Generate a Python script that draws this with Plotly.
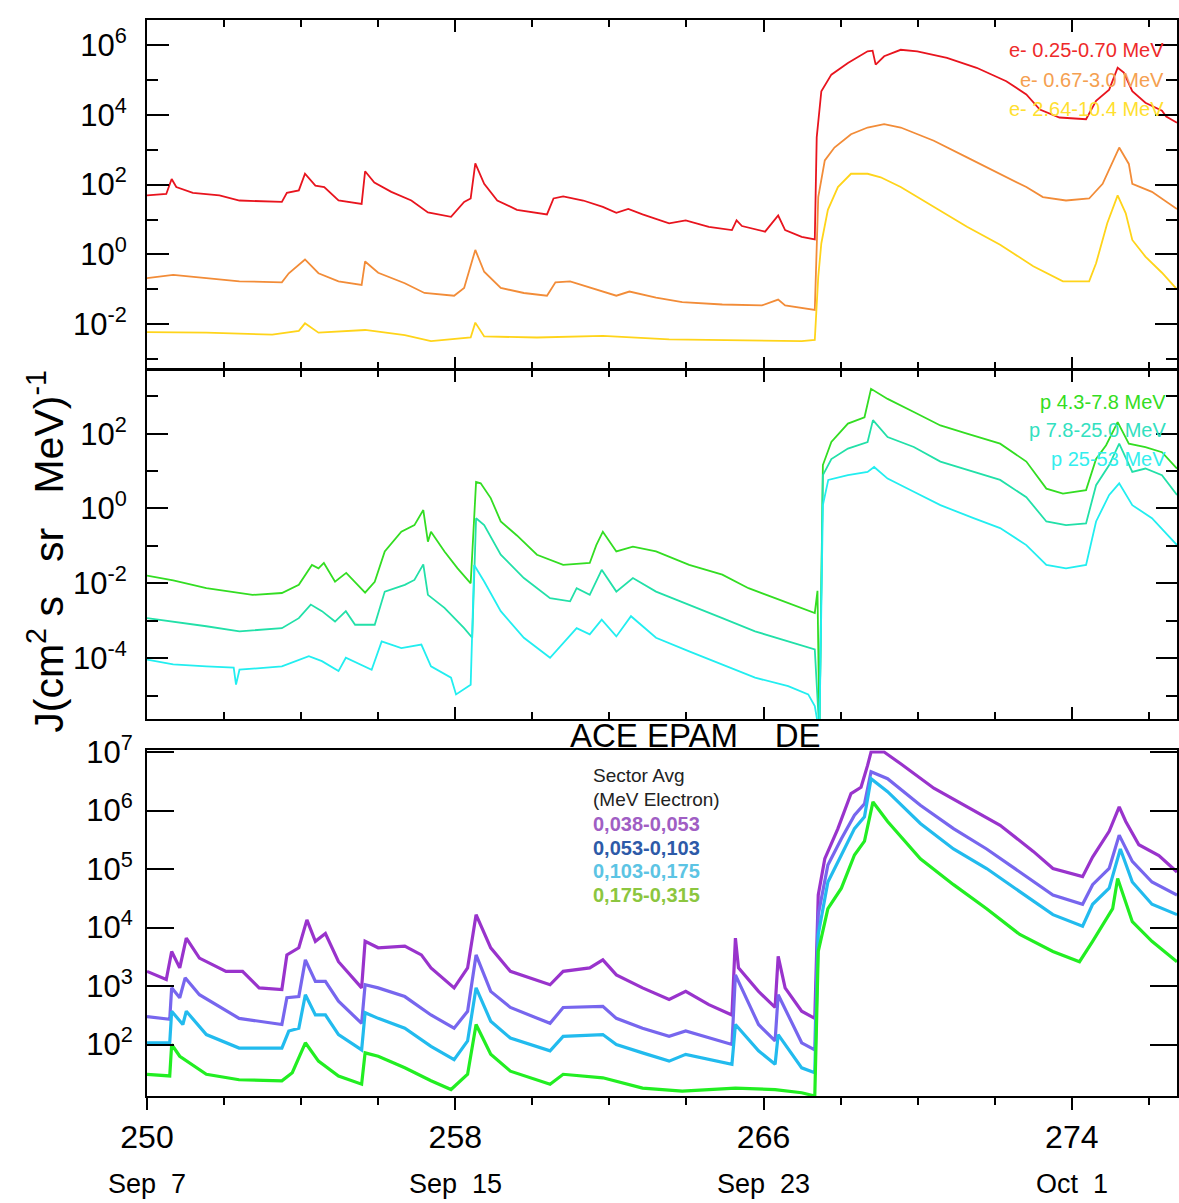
import plotly.graph_objects as go

FONT = "Liberation Sans, Arial, sans-serif"

# ---------------- data (day of year 2005, flux) ----------------
# Panel 1: electrons
e1_day = [250.0, 250.5, 250.64, 250.76, 251.19, 251.88, 252.4, 253.5, 253.63, 253.94, 254.1, 254.37, 254.6,
          254.97, 255.57, 255.66, 255.9, 256.34, 256.86, 257.29, 257.89, 258.23, 258.4, 258.52, 258.75, 259.09,
          259.6, 260.38, 260.55, 260.8, 261.32, 261.83, 262.18, 262.49, 262.86, 263.55, 263.98, 264.58, 265.18,
          265.3, 265.44, 266.04, 266.38, 266.56, 266.99, 267.33, 267.38, 267.5, 267.76, 268.19, 268.7, 268.83,
          268.91, 269.13, 269.56, 269.99, 270.76, 271.53, 272.3, 272.82, 273.17, 273.68, 274.37, 274.63, 274.97,
          275.19, 275.35, 275.57, 275.91, 276.34, 276.45, 276.73]
e1_val = [49, 54, 145, 85, 58, 49, 35, 32, 58, 68, 204, 93, 85,
          35, 28, 240, 115, 62, 35, 16, 12, 32, 40, 407, 105, 35,
          19, 14, 40, 46, 35, 23, 15.5, 20, 14, 7.8, 9.5, 6.2, 5.0,
          9.5, 6.5, 4.5, 13, 5.0, 3.2, 2.7, 2240, 4.7e4, 1.4e5, 3.0e5, 6.5e5, 6.8e5,
          2.7e5, 4.7e5, 7.2e5, 6.5e5, 4.2e5, 2.2e5, 9.1e4, 3.8e4, 1.4e4, 8300, 7400, 2.5e4, 5.2e4,
          2.2e5, 1.6e5, 4.7e4, 2.2e4, 1.3e4, 8900, 5900]

e2_day = [250.0, 250.68, 251.54, 252.4, 253.5, 253.68, 254.1, 254.45, 254.97, 255.57, 255.66, 256.0, 256.69,
          257.2, 257.97, 258.23, 258.52, 258.75, 259.18, 259.78, 260.38, 260.6, 260.98, 261.83, 262.18, 262.52,
          263.21, 263.89, 264.93, 265.96, 266.38, 266.56, 266.99, 267.33, 267.42, 267.59, 267.84, 268.27, 268.7,
          269.13, 269.56, 270.42, 271.28, 272.14, 272.82, 273.25, 273.85, 274.45, 274.8, 275.23, 275.48, 275.57,
          276.08, 276.73]
e2_val = [0.21, 0.26, 0.21, 0.17, 0.16, 0.29, 0.72, 0.29, 0.17, 0.135, 0.63, 0.30, 0.15,
          0.079, 0.066, 0.11, 1.35, 0.32, 0.11, 0.079, 0.066, 0.16, 0.17, 0.087, 0.066, 0.087,
          0.058, 0.043, 0.037, 0.035, 0.051, 0.035, 0.030, 0.026, 44, 490, 1150, 2750, 4300,
          5400, 4300, 1800, 600, 204, 85, 44, 35, 40, 105, 1150, 390, 105,
          62, 20]

e3_day = [250.0, 251.54, 253.25, 253.94, 254.1, 254.45, 255.66, 256.69, 257.37, 258.4, 258.52, 258.75, 260.12,
          261.83, 263.55, 265.27, 266.99, 267.33, 267.42, 267.5, 267.67, 267.93, 268.27, 268.7, 269.04, 269.56,
          270.42, 271.28, 272.14, 273.0, 273.77, 274.45, 274.63, 274.92, 275.19, 275.4, 275.57, 275.91, 276.34,
          276.73]
e3_val = [0.0060, 0.0058, 0.0051, 0.0065, 0.0107, 0.0058, 0.0069, 0.0049, 0.0033, 0.0042, 0.0112, 0.0045, 0.0042,
          0.0047, 0.0037, 0.0035, 0.0033, 0.0036, 0.23, 2.1, 19, 85, 204, 204, 162, 85,
          23, 6.2, 1.9, 0.46, 0.17, 0.17, 0.56, 7.8, 49, 15, 2.6, 0.87, 0.30,
          0.10]

# Panel 2: protons
p1_day = [250.0, 250.68, 251.54, 252.74, 253.5, 253.94, 254.28, 254.45, 254.59, 254.88, 255.17, 255.66, 255.91,
          256.17, 256.6, 256.94, 257.17, 257.29, 257.37, 257.72, 258.06, 258.4, 258.54, 258.66, 258.92, 259.18,
          259.6, 260.12, 260.8, 261.49, 261.66, 261.83, 262.18, 262.61, 263.21, 264.07, 264.93, 265.61, 266.3,
          266.99, 267.33, 267.4, 267.45, 267.54, 267.76, 268.19, 268.62, 268.79, 269.22, 269.9, 270.59, 271.28,
          272.14, 272.82, 273.34, 273.77, 274.37, 274.63, 274.89, 275.19, 275.48, 275.91, 276.34, 276.73]
p1_val = [0.016, 0.012, 0.0074, 0.0049, 0.0055, 0.0091, 0.031, 0.025, 0.035, 0.011, 0.019, 0.0056, 0.011,
          0.071, 0.24, 0.36, 0.91, 0.13, 0.24, 0.071, 0.025, 0.010, 5.1, 4.7, 1.9, 0.45,
          0.19, 0.058, 0.031, 0.035, 0.105, 0.24, 0.071, 0.095, 0.071, 0.031, 0.017, 0.0074, 0.0040,
          0.0022, 0.0016, 0.0063, 1e-6, 14.5, 60, 186, 275, 1580, 850, 380, 166, 100,
          54, 18, 3.4, 2.5, 3.1, 21, 49, 204, 54, 44, 32, 11.7]

p2_day = [250.0, 250.68, 251.54, 252.4, 253.5, 253.94, 254.25, 254.54, 254.88, 255.16, 255.4, 255.91, 256.17,
          256.69, 256.94, 257.17, 257.29, 257.72, 258.23, 258.44, 258.54, 258.75, 259.18, 259.78, 260.46, 260.98,
          261.15, 261.49, 261.8, 262.18, 262.61, 263.21, 264.07, 264.93, 265.78, 266.64, 267.33, 267.45, 267.54,
          267.76, 268.19, 268.7, 268.84, 269.22, 269.9, 270.59, 271.45, 272.14, 272.82, 273.34, 273.85, 274.37,
          274.63, 274.97, 275.23, 275.57, 275.91, 276.34, 276.73]
p2_val = [0.00117, 0.00095, 0.00071, 0.00052, 0.00063, 0.00117, 0.0027, 0.0018, 0.00095, 0.0018, 0.00078, 0.00078, 0.0060,
          0.0091, 0.0123, 0.032, 0.0049, 0.0022, 0.00063, 0.00035, 0.55, 0.36, 0.058, 0.0138, 0.0040, 0.0033,
          0.0074, 0.0049, 0.023, 0.0060, 0.0138, 0.0060, 0.0027, 0.00117, 0.00052, 0.00028, 0.00017, 1e-6, 7.8,
          21, 40, 60, 230, 81, 44, 18, 9.5, 5.8, 2.0, 0.45, 0.36, 0.40,
          4.2, 14.5, 54, 9.5, 11.7, 7.8, 2.3]

p3_day = [250.0, 250.68, 251.54, 252.25, 252.31, 252.4, 253.5, 254.2, 254.54, 254.97, 255.16, 255.83, 256.09,
          256.6, 257.12, 257.37, 257.89, 258.02, 258.4, 258.49, 258.75, 259.18, 259.78, 260.46, 261.15, 261.49,
          261.8, 262.18, 262.56, 263.21, 264.07, 264.93, 265.78, 266.64, 267.16, 267.33, 267.45, 267.54, 267.68,
          268.19, 268.7, 268.87, 269.22, 269.9, 270.59, 271.45, 272.14, 272.82, 273.34, 273.85, 274.37, 274.63,
          274.97, 275.23, 275.57, 276.08, 276.73]
p3_val = [9.1e-5, 6.8e-5, 6.0e-5, 5.6e-5, 1.95e-5, 4.9e-5, 6.0e-5, 1.12e-4, 8.3e-5, 4.5e-5, 1.02e-4, 4.9e-5, 2.8e-4,
          1.86e-4, 2.3e-4, 6.0e-5, 3.0e-5, 1.07e-5, 1.95e-5, 0.031, 0.0112, 0.0018, 3.5e-4, 1.02e-4, 6.3e-4, 4.3e-4,
          1.07e-3, 3.8e-4, 1.32e-3, 3.5e-4, 1.51e-4, 6.8e-5, 3.0e-5, 1.78e-5, 1.07e-5, 5.2e-6, 1e-6, 1.23, 5.8,
          7.8, 9.5, 12.9, 6.3, 2.8, 1.23, 0.55, 0.30, 0.105, 0.031, 0.025, 0.031, 0.45,
          2.3, 4.7, 1.23, 0.55, 0.105]

# Panel 3: ACE EPAM DE electrons
d1_day = [250.0, 250.5, 250.64, 250.85, 251.02, 251.36, 252.05, 252.48, 252.91, 253.5, 253.63, 253.94, 254.15,
          254.37, 254.63, 254.97, 255.57, 255.66, 256.0, 256.69, 257.12, 257.37, 257.97, 258.32, 258.54, 258.92,
          259.43, 260.46, 260.8, 261.49, 261.83, 262.18, 262.86, 263.55, 263.98, 264.58, 265.18, 265.27, 265.35,
          265.87, 266.3, 266.38, 266.56, 266.99, 267.33, 267.42, 267.59, 267.93, 268.27, 268.53, 268.7, 268.79,
          269.13, 269.56, 270.42, 271.28, 272.14, 273.0, 273.51, 274.28, 274.54, 274.97, 275.23, 275.4, 275.74,
          276.26, 276.73]
d1_val = [1780, 1290, 3900, 2040, 6600, 3000, 1780, 1780, 930, 870, 3400, 4500, 13500,
          5800, 7900, 2600, 930, 5800, 4500, 4800, 3400, 2040, 930, 2040, 16600, 4500,
          1780, 1050, 1780, 2040, 2800, 1550, 930, 590, 810, 480, 320, 6600, 2040,
          810, 430, 3200, 930, 370, 280, 3.6e4, 1.5e5, 4.9e5, 1.95e6, 2.5e6, 5.9e6, 1.0e7,
          1.0e7, 6.3e6, 2.4e6, 1.15e6, 5.6e5, 2.0e5, 1.02e5, 7.4e4, 1.6e5, 4.4e5, 1.15e6, 6.5e5, 2.6e5,
          1.7e5, 8.9e4]

d2_day = [250.0, 250.59, 250.64, 250.85, 250.99, 251.36, 252.39, 253.5, 253.63, 253.94, 254.11, 254.37, 254.63,
          254.97, 255.57, 255.66, 256.0, 256.69, 257.37, 257.97, 258.32, 258.54, 258.92, 259.43, 260.46, 260.8,
          261.83, 262.18, 262.86, 263.55, 263.98, 265.18, 265.27, 265.87, 266.3, 266.38, 266.99, 267.33, 267.42,
          267.67, 268.02, 268.36, 268.62, 268.79, 269.22, 270.07, 270.93, 271.79, 272.65, 273.51, 274.28, 274.54,
          274.97, 275.23, 275.57, 276.08, 276.73]
d2_val = [300, 270, 930, 630, 1380, 710, 280, 220, 630, 660, 2800, 1200, 1200,
          550, 230, 1050, 930, 660, 320, 190, 370, 3400, 810, 430, 230, 430,
          450, 280, 190, 138, 170, 100, 1550, 220, 115, 710, 107, 81, 1.66e4,
          1.17e5, 3.3e5, 8.3e5, 1.3e6, 4.6e6, 3.5e6, 1.23e6, 4.9e5, 2.2e5, 8.9e4, 3.6e4, 2.5e4, 5.4e4,
          1.02e5, 3.8e5, 1.35e5, 6.0e4, 3.6e4]

d3_day = [250.0, 250.59, 250.64, 250.93, 251.02, 251.54, 252.39, 253.5, 253.68, 253.94, 254.11, 254.37, 254.63,
          254.97, 255.57, 255.66, 256.0, 256.69, 257.37, 257.97, 258.32, 258.54, 258.92, 259.43, 260.46, 260.8,
          261.83, 262.18, 262.86, 263.55, 263.98, 265.18, 265.27, 265.87, 266.3, 266.38, 266.99, 267.33, 267.42,
          267.67, 268.02, 268.36, 268.62, 268.79, 269.22, 270.07, 270.93, 271.79, 272.65, 273.51, 274.28, 274.54,
          274.97, 275.26, 275.57, 276.08, 276.73]
d3_val = [107, 107, 370, 220, 370, 148, 87, 87, 170, 190, 710, 320, 320,
          148, 81, 350, 280, 190, 93, 55, 115, 930, 250, 129, 78, 138,
          148, 100, 72, 52, 68, 46, 220, 78, 46, 148, 40, 33, 7600,
          6.0e4, 1.74e5, 4.9e5, 7.8e5, 3.5e6, 2.1e6, 6.0e5, 2.2e5, 1.02e5, 4.1e4, 1.66e4, 1.05e4, 2.5e4,
          4.7e4, 2.2e5, 6.0e4, 2.5e4, 1.66e4]

d4_day = [250.0, 250.59, 250.64, 250.85, 251.54, 252.39, 253.5, 253.77, 254.11, 254.45, 254.97, 255.57, 255.66,
          256.0, 256.69, 257.37, 257.89, 258.32, 258.54, 258.92, 259.43, 260.46, 260.8, 261.83, 262.86, 263.89,
          265.27, 266.3, 266.99, 267.33, 267.42, 267.67, 268.02, 268.36, 268.62, 268.84, 269.22, 270.07, 270.93,
          271.79, 272.65, 273.51, 274.2, 274.54, 275.06, 275.19, 275.57, 276.08, 276.73]
d4_val = [31, 29, 100, 63, 31, 25, 24, 33, 107, 52, 29, 21, 72,
          63, 40, 24, 17, 31, 220, 68, 35, 21, 31, 27, 18, 16,
          18, 17, 15, 13.2, 3900, 2.1e4, 4.7e4, 1.74e5, 3.0e5, 1.4e6, 6.5e5, 1.5e5, 5.4e4,
          2.1e4, 7600, 3900, 2600, 5800, 2.1e4, 6.9e4, 1.26e4, 5800, 2600]

# ---------------- labels ----------------
e_labels = ["e- 0.25-0.70 MeV", "e- 0.67-3.0 MeV", "e- 2.64-10.4 MeV"]
p_labels = ["p 4.3-7.8 MeV", "p 7.8-25.0 MeV", "p 25-53 MeV"]
de_header = ["Sector Avg", "(MeV Electron)"]
de_labels = ["0,038-0,053", "0,053-0,103", "0,103-0,175", "0,175-0,315"]

x_tickvals = [250, 258, 266, 274]
x_ticktext = ["250", "258", "266", "274"]
x_datetext = ["Sep\u00a0\u00a07", "Sep\u00a0\u00a015", "Sep\u00a0\u00a023", "Oct\u00a0\u00a01"]

y1_tickvals = [1e-2, 1e0, 1e2, 1e4, 1e6]
y1_ticktext = ["10<sup>-2</sup>", "10<sup>0</sup>", "10<sup>2</sup>", "10<sup>4</sup>", "10<sup>6</sup>"]
y1_minor = [1e-3, 1e-1, 1e1, 1e3, 1e5]
y2_tickvals = [1e-4, 1e-2, 1e0, 1e2]
y2_ticktext = ["10<sup>-4</sup>", "10<sup>-2</sup>", "10<sup>0</sup>", "10<sup>2</sup>"]
y2_minor = [1e-5, 1e-3, 1e-1, 1e1, 1e3]
y3_tickvals = [1e2, 1e3, 1e4, 1e5, 1e6, 1e7]
y3_ticktext = ["10<sup>2</sup>", "10<sup>3</sup>", "10<sup>4</sup>", "10<sup>5</sup>", "10<sup>6</sup>", "10<sup>7</sup>"]

# ---------------- figure ----------------
W, H = 1179, 1203
ML, MR, MT, MB = 147, 0, 13, 107
PW, PH = W - ML - MR, H - MT - MB


def px(xp):
    return (xp - ML) / PW


def py(yp):
    return (H - MB - yp) / PH


fig = go.Figure()


def add(x, y, color, width, xa, ya):
    fig.add_trace(go.Scatter(x=x, y=y, mode="lines", line=dict(color=color, width=width),
                             xaxis=xa, yaxis=ya, showlegend=False, hoverinfo="skip"))


e_cols = ["#e8141e", "#f28c38", "#ffd41a"]
p_cols = ["#33dd22", "#22e0a8", "#22eef0"]
d_cols = ["#9933cc", "#7766ee", "#22bbee", "#22ee22"]

add(e1_day, e1_val, e_cols[0], 1.8, "x3", "y3")
add(e2_day, e2_val, e_cols[1], 1.8, "x3", "y3")
add(e3_day, e3_val, e_cols[2], 1.8, "x3", "y3")
add(p1_day, p1_val, p_cols[0], 1.8, "x2", "y2")
add(p2_day, p2_val, p_cols[1], 1.8, "x2", "y2")
add(p3_day, p3_val, p_cols[2], 1.8, "x2", "y2")
add(d1_day, d1_val, d_cols[0], 3.2, "x", "y")
add(d2_day, d2_val, d_cols[1], 3.2, "x", "y")
add(d3_day, d3_val, d_cols[2], 3.2, "x", "y")
add(d4_day, d4_val, d_cols[3], 3.2, "x", "y")

xr = [250, 276.73]
common_line = dict(showline=True, linecolor="black", linewidth=2, showgrid=False, zeroline=False)


def yax(domain, rng, tv, tt, minorvals, ticklen, standoff, minorlen=11):
    d = dict(domain=domain, type="log", range=rng, tickmode="array", tickvals=tv, ticktext=tt,
             ticks="inside", ticklen=ticklen, tickwidth=2, tickcolor="black", mirror="ticks",
             tickfont=dict(size=31, family=FONT, color="black"), ticklabelstandoff=standoff, **common_line)
    if minorvals:
        d["minor"] = dict(tickmode="array", tickvals=minorvals, ticks="inside", ticklen=minorlen,
                          tickwidth=2, tickcolor="black", showgrid=False)
    return d


dom3 = [0.0, py(748)]
dom2 = [py(717), py(365)]
dom1 = [py(364), 1.0]

xminor_in = dict(dtick=2, tick0=250, ticks="inside", ticklen=7, tickwidth=2, tickcolor="black", showgrid=False)

fig.update_layout(
    width=W, height=H, margin=dict(l=ML, r=MR, t=MT, b=MB),
    paper_bgcolor="white", plot_bgcolor="white",
    font=dict(family=FONT, color="black"),
    xaxis=dict(domain=[0, 1], anchor="y", range=xr, tickmode="array", tickvals=x_tickvals, ticktext=x_ticktext,
               ticks="outside", ticklen=12, tickwidth=2, tickcolor="black", mirror=True,
               tickfont=dict(size=32, family=FONT, color="black"), ticklabelstandoff=0,
               minor=dict(dtick=2, tick0=250, ticks="outside", ticklen=7, tickwidth=2, tickcolor="black",
                          showgrid=False), **common_line),
    xaxis2=dict(domain=[0, 1], anchor="y2", matches="x", range=xr, tickmode="array", tickvals=x_tickvals,
                showticklabels=False, ticks="inside", ticklen=12, tickwidth=2, tickcolor="black",
                mirror="ticks", minor=xminor_in, **common_line),
    xaxis3=dict(domain=[0, 1], anchor="y3", matches="x", range=xr, tickmode="array", tickvals=x_tickvals,
                showticklabels=False, ticks="inside", ticklen=12, tickwidth=2, tickcolor="black",
                mirror="ticks", minor=xminor_in, **common_line),
    yaxis=yax(dom3, [1.12, 7.03], y3_tickvals, y3_ticktext, None, 27, 6),
    yaxis2=yax(dom2, [-5.64, 3.71], y2_tickvals, y2_ticktext, y2_minor, 21, 12),
    yaxis3=yax(dom1, [-3.27, 6.71], y1_tickvals, y1_ticktext, y1_minor, 22, 12),
)

ann = []
# y-axis title
ann.append(dict(text="J(cm<sup>2</sup> s\u00a0\u00a0 sr\u00a0\u00a0 MeV)<sup>-1</sup>", textangle=-90,
                x=px(45), y=py(548), xref="paper", yref="paper", xanchor="center", yanchor="middle",
                showarrow=False, font=dict(size=41, family=FONT, color="black")))
# title between panels
ann.append(dict(text="ACE EPAM\u00a0\u00a0\u00a0\u00a0DE", x=px(697), y=py(733), xref="paper", yref="paper",
                xanchor="center", yanchor="middle", showarrow=False,
                font=dict(size=33, family=FONT, color="black")))
# date row under x ticks
for xv, t in zip(x_tickvals, x_datetext):
    ann.append(dict(text=t, x=xv, y=py(1185), xref="x", yref="paper", xanchor="center", yanchor="middle",
                    showarrow=False, font=dict(size=27, family=FONT, color="black")))
# electron legend
e_txt_cols = ["#ee2a2a", "#f5a050", "#ffe030"]
for i, (t, c) in enumerate(zip(e_labels, e_txt_cols)):
    ann.append(dict(text=t, x=px(1168), y=py(43 + 30 * i), xref="paper", yref="paper", xanchor="right",
                    yanchor="middle", showarrow=False, font=dict(size=20, family=FONT, color=c)))
# proton legend
p_txt_cols = ["#33dd22", "#33e0c0", "#33eeee"]
for i, (t, c) in enumerate(zip(p_labels, p_txt_cols)):
    ann.append(dict(text=t, x=px(1170), y=py(397 + 29 * i), xref="paper", yref="paper", xanchor="right",
                    yanchor="middle", showarrow=False, font=dict(size=20, family=FONT, color=c)))
# DE legend
for i, t in enumerate(de_header):
    ann.append(dict(text=t, x=px(592), y=py(773 + 25 * i), xref="paper", yref="paper", xanchor="left",
                    yanchor="middle", showarrow=False, font=dict(size=19, family=FONT, color="#222222")))
de_txt_cols = ["#a05ec4", "#2d5aa8", "#5cc4e4", "#8cc63f"]
for i, (t, c) in enumerate(zip(de_labels, de_txt_cols)):
    ann.append(dict(text="<b>" + t + "</b>", x=px(592), y=py(822 + 24 * i), xref="paper", yref="paper",
                    xanchor="left", yanchor="middle", showarrow=False,
                    font=dict(size=20, family=FONT, color=c)))

fig.update_layout(annotations=ann)
fig.write_html("out.html")
